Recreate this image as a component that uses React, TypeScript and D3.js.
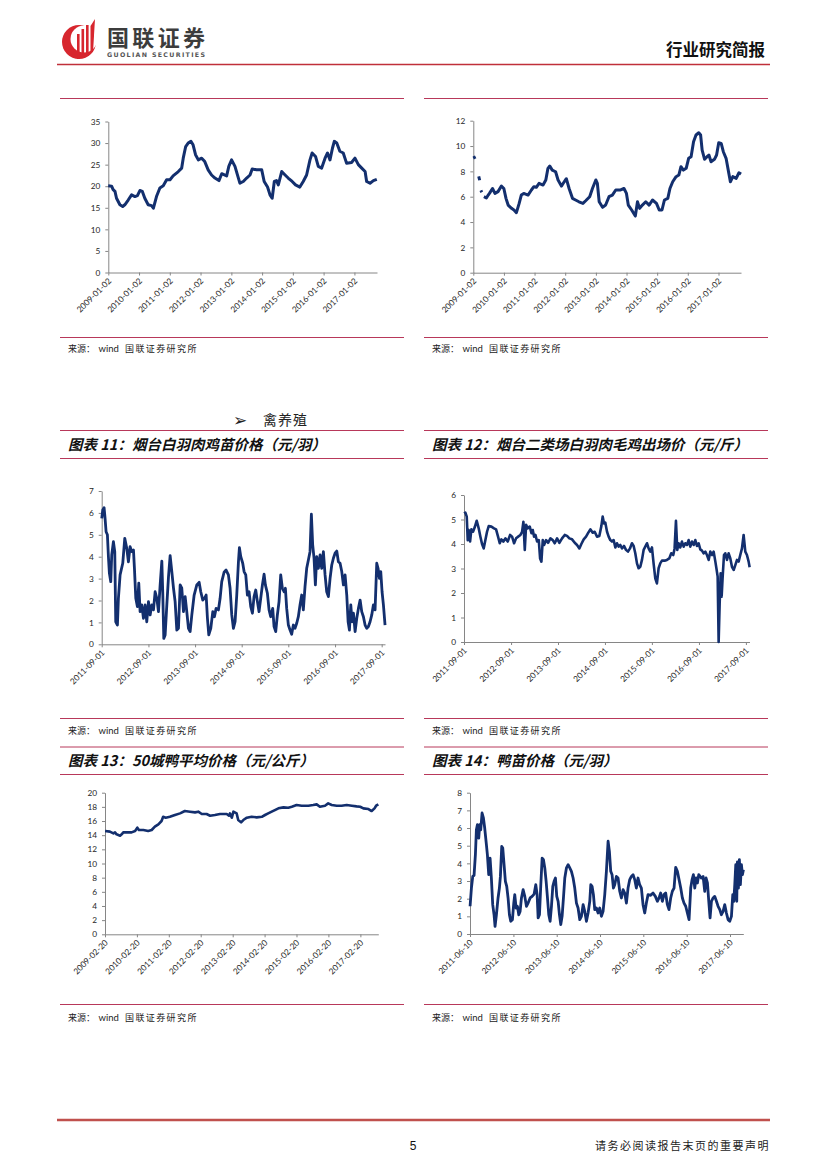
import { useRef, useEffect } from 'react'
import * as d3 from 'd3'

// [decimal year, value]; null marks a gap in the series
type Pt = [number, number | null]

const ticksJan02 = ['2009-01-02', '2010-01-02', '2011-01-02', '2012-01-02', '2013-01-02', '2014-01-02', '2015-01-02', '2016-01-02', '2017-01-02']
const ticksSep01 = ['2011-09-01', '2012-09-01', '2013-09-01', '2014-09-01', '2015-09-01', '2016-09-01', '2017-09-01']
const ticksFeb20 = ['2009-02-20', '2010-02-20', '2011-02-20', '2012-02-20', '2013-02-20', '2014-02-20', '2015-02-20', '2016-02-20', '2017-02-20']
const ticksJun10 = ['2011-06-10', '2012-06-10', '2013-06-10', '2014-06-10', '2015-06-10', '2016-06-10', '2017-06-10']

const topLeftSeries: Pt[] = [
  [2009.0, 20.1], [2009.11, 20.0], [2009.16, 19.2], [2009.22, 18.8], [2009.27, 17.2], [2009.38, 15.7], [2009.47, 15.3],
  [2009.54, 15.7], [2009.65, 16.8], [2009.76, 18.0], [2009.87, 17.6], [2009.95, 17.8], [2010.03, 19.0], [2010.11, 18.8],
  [2010.19, 17.2], [2010.3, 15.7], [2010.41, 15.5], [2010.47, 14.9], [2010.57, 17.6], [2010.68, 19.6], [2010.79, 20.1],
  [2010.9, 21.5], [2011.01, 21.5], [2011.11, 22.4], [2011.28, 23.4], [2011.39, 24.2], [2011.44, 26.5], [2011.52, 29.2],
  [2011.6, 30.0], [2011.69, 30.4], [2011.76, 29.6], [2011.84, 27.3], [2011.93, 26.1], [2012.04, 26.5], [2012.14, 25.7],
  [2012.25, 23.8], [2012.36, 22.6], [2012.47, 21.9], [2012.6, 21.3], [2012.69, 22.9], [2012.85, 22.4], [2012.92, 24.6],
  [2013.01, 26.1], [2013.12, 24.6], [2013.21, 22.4], [2013.28, 20.7], [2013.39, 21.1], [2013.5, 21.9], [2013.61, 22.6],
  [2013.68, 24.0], [2013.82, 23.8], [2013.99, 23.8], [2014.07, 21.1], [2014.18, 19.8], [2014.26, 18.0], [2014.33, 17.2],
  [2014.4, 21.1], [2014.47, 21.3], [2014.53, 20.3], [2014.64, 23.4], [2014.75, 22.6], [2014.85, 21.9], [2014.98, 21.1],
  [2015.09, 20.3], [2015.23, 19.8], [2015.34, 21.1], [2015.45, 22.6], [2015.56, 26.1], [2015.63, 27.7], [2015.74, 26.9],
  [2015.83, 24.6], [2015.94, 24.2], [2016.05, 26.5], [2016.13, 27.7], [2016.21, 26.1], [2016.29, 28.8], [2016.35, 30.4],
  [2016.43, 30.0], [2016.53, 28.1], [2016.64, 27.7], [2016.75, 25.3], [2016.91, 25.5], [2017.02, 26.5], [2017.13, 25.0],
  [2017.24, 24.2], [2017.35, 23.4], [2017.4, 21.1], [2017.51, 20.7], [2017.62, 21.3], [2017.73, 21.6],
]

const topRightSeries: Pt[] = [
  [2009.0, 9.05], [2009.04, 9.1], [2009.08, 9.15], [2009.12, null],
  [2009.18, 7.6], [2009.21, 7.3], [2009.23, null],
  [2009.25, 6.5], [2009.28, 6.35], [2009.31, null],
  [2009.35, 6.0], [2009.43, 5.9], [2009.49, 6.13], [2009.54, 6.3], [2009.63, 6.65], [2009.71, 6.26], [2009.81, 6.4],
  [2009.92, 6.84], [2010.0, 6.65], [2010.07, 5.87], [2010.14, 5.34], [2010.25, 5.08], [2010.33, 4.95], [2010.41, 4.74],
  [2010.5, 5.47], [2010.57, 6.13], [2010.65, 6.26], [2010.79, 6.13], [2010.9, 6.53], [2010.98, 6.79], [2011.06, 6.74],
  [2011.15, 7.05], [2011.28, 6.92], [2011.37, 7.32], [2011.44, 8.24], [2011.5, 8.42], [2011.58, 8.1], [2011.69, 7.97],
  [2011.77, 7.32], [2011.88, 6.84], [2011.95, 7.1], [2012.04, 7.42], [2012.13, 6.65], [2012.24, 5.87], [2012.34, 5.74],
  [2012.45, 5.6], [2012.58, 5.47], [2012.67, 5.68], [2012.8, 6.0], [2012.89, 6.65], [2013.0, 7.32], [2013.05, 7.05],
  [2013.11, 5.6], [2013.22, 5.16], [2013.32, 5.34], [2013.43, 6.0], [2013.54, 6.13], [2013.65, 6.53], [2013.81, 6.53],
  [2013.92, 6.65], [2014.0, 6.26], [2014.06, 5.34], [2014.17, 4.95], [2014.29, 4.47], [2014.36, 5.6], [2014.43, 5.08],
  [2014.52, 5.34], [2014.63, 5.6], [2014.74, 5.34], [2014.85, 5.74], [2014.98, 5.47], [2015.07, 4.95], [2015.16, 4.95],
  [2015.24, 5.74], [2015.35, 5.87], [2015.42, 6.65], [2015.51, 7.18], [2015.62, 7.58], [2015.71, 7.71], [2015.78, 8.37],
  [2015.86, 8.1], [2015.95, 8.24], [2016.03, 9.03], [2016.11, 9.16], [2016.19, 10.34], [2016.27, 10.87], [2016.36, 11.05],
  [2016.42, 10.87], [2016.47, 9.68], [2016.55, 8.95], [2016.63, 9.16], [2016.69, 9.29], [2016.76, 8.76], [2016.87, 8.95],
  [2016.94, 9.29], [2017.01, 10.26], [2017.09, 10.21], [2017.16, 9.55], [2017.25, 9.03], [2017.34, 7.84], [2017.39, 7.18],
  [2017.47, 7.58], [2017.58, 7.45], [2017.67, 7.89], [2017.74, 7.79],
]

// 烟台白羽肉鸡苗价格（元/羽）
const chickSeedlingPrice: Pt[] = [
  [2011.667, 5.75], [2011.688, 6.13], [2011.717, 6.24], [2011.738, 5.75], [2011.76, 5.14], [2011.788, 5.0], [2011.81, 4.0],
  [2011.831, 3.24], [2011.86, 2.86], [2011.881, 4.08], [2011.917, 4.69], [2011.946, 4.23], [2011.967, 1.03], [2012.003, 0.88],
  [2012.024, 2.1], [2012.06, 3.17], [2012.117, 3.7], [2012.16, 4.84], [2012.203, 4.38], [2012.238, 3.77], [2012.274, 4.46],
  [2012.31, 4.23], [2012.346, 4.31], [2012.367, 3.47], [2012.396, 2.1], [2012.431, 1.72], [2012.46, 2.79], [2012.488, 1.49],
  [2012.524, 1.8], [2012.56, 1.19], [2012.596, 1.8], [2012.631, 1.03], [2012.667, 1.95], [2012.703, 1.34], [2012.738, 1.8],
  [2012.774, 1.57], [2012.81, 2.4], [2012.846, 2.1], [2012.881, 1.49], [2012.917, 2.71], [2012.953, 3.8], [2012.974, 2.25],
  [2012.995, 0.27], [2013.024, 0.43], [2013.06, 1.8], [2013.096, 3.09], [2013.131, 4.05], [2013.167, 3.32], [2013.203, 2.56],
  [2013.238, 1.95], [2013.274, 0.65], [2013.31, 0.73], [2013.346, 2.71], [2013.381, 2.56], [2013.417, 1.49], [2013.453, 2.18],
  [2013.488, 1.49], [2013.524, 0.73], [2013.56, 0.58], [2013.596, 1.34], [2013.646, 2.25], [2013.703, 2.71], [2013.753, 2.83],
  [2013.788, 2.4], [2013.831, 2.02], [2013.867, 2.1], [2013.903, 2.25], [2013.931, 1.19], [2013.96, 0.43], [2014.003, 0.73],
  [2014.046, 1.49], [2014.081, 1.26], [2014.117, 1.64], [2014.167, 1.57], [2014.203, 2.1], [2014.238, 2.86], [2014.288, 3.29],
  [2014.331, 3.39], [2014.381, 3.17], [2014.417, 2.56], [2014.453, 1.34], [2014.488, 0.73], [2014.524, 1.03], [2014.56, 2.25],
  [2014.596, 3.77], [2014.617, 4.41], [2014.646, 4.0], [2014.688, 3.7], [2014.717, 3.32], [2014.753, 3.17], [2014.788, 2.25],
  [2014.824, 2.4], [2014.86, 1.72], [2014.896, 1.42], [2014.931, 2.18], [2014.967, 2.48], [2015.003, 1.95], [2015.038, 1.49],
  [2015.074, 2.1], [2015.11, 2.71], [2015.146, 3.2], [2015.174, 2.71], [2015.217, 2.33], [2015.253, 1.57], [2015.288, 1.26],
  [2015.331, 1.64], [2015.36, 0.81], [2015.396, 0.58], [2015.431, 1.34], [2015.467, 1.95], [2015.503, 3.17], [2015.538, 2.56],
  [2015.574, 2.4], [2015.603, 2.56], [2015.631, 1.64], [2015.667, 0.88], [2015.703, 0.65], [2015.738, 0.46], [2015.774, 0.88],
  [2015.81, 0.73], [2015.846, 0.96], [2015.881, 1.26], [2015.917, 1.8], [2015.953, 2.25], [2015.988, 1.57], [2016.024, 2.63],
  [2016.06, 3.47], [2016.096, 3.85], [2016.131, 4.23], [2016.16, 5.94], [2016.188, 4.54], [2016.217, 3.93], [2016.246, 2.71],
  [2016.274, 4.0], [2016.31, 3.47], [2016.346, 4.08], [2016.381, 3.47], [2016.417, 4.23], [2016.453, 3.17], [2016.488, 2.4],
  [2016.524, 2.18], [2016.56, 3.01], [2016.596, 3.62], [2016.631, 3.93], [2016.667, 4.16], [2016.703, 4.26], [2016.738, 3.77],
  [2016.774, 3.7], [2016.81, 3.32], [2016.846, 2.71], [2016.881, 3.17], [2016.917, 2.25], [2016.946, 1.03], [2016.974, 0.65],
  [2017.003, 1.8], [2017.031, 1.03], [2017.06, 1.42], [2017.096, 0.58], [2017.131, 1.19], [2017.167, 1.64], [2017.203, 2.02],
  [2017.238, 1.49], [2017.274, 1.26], [2017.31, 0.88], [2017.346, 0.73], [2017.381, 0.81], [2017.417, 1.03], [2017.453, 1.34],
  [2017.488, 1.8], [2017.524, 1.57], [2017.56, 3.7], [2017.588, 3.47], [2017.617, 3.01], [2017.646, 3.32], [2017.674, 2.4],
  [2017.703, 1.8], [2017.738, 0.88],
]

// 烟台二类场白羽肉毛鸡出场价（元/斤）
const broilerFarmPrice: Pt[] = [
  [2011.667, 5.25], [2011.695, 5.28], [2011.724, 5.12], [2011.745, 4.16], [2011.766, 4.57], [2011.795, 4.1], [2011.823, 4.6],
  [2011.858, 4.5], [2011.894, 4.68], [2011.937, 4.95], [2011.979, 4.64], [2012.015, 4.3], [2012.05, 4.0], [2012.085, 3.82],
  [2012.121, 4.16], [2012.156, 4.5], [2012.192, 4.73], [2012.249, 4.71], [2012.305, 4.64], [2012.348, 4.6], [2012.39, 4.3],
  [2012.426, 4.03], [2012.461, 4.19], [2012.504, 4.1], [2012.546, 4.23], [2012.596, 4.1], [2012.646, 4.37], [2012.688, 4.3],
  [2012.731, 4.03], [2012.773, 4.23], [2012.816, 4.3], [2012.866, 4.37], [2012.901, 4.5], [2012.929, 4.91], [2012.958, 3.76],
  [2012.986, 4.78], [2013.022, 4.64], [2013.064, 4.71], [2013.1, 4.44], [2013.128, 4.57], [2013.156, 4.3], [2013.185, 4.37],
  [2013.22, 4.1], [2013.256, 4.16], [2013.284, 3.41], [2013.312, 3.28], [2013.341, 4.16], [2013.369, 3.96], [2013.412, 4.16],
  [2013.454, 4.05], [2013.504, 4.23], [2013.554, 4.16], [2013.596, 4.03], [2013.646, 4.23], [2013.695, 4.05], [2013.752, 4.23],
  [2013.809, 4.37], [2013.858, 4.33], [2013.908, 4.23], [2013.965, 4.19], [2014.022, 4.05], [2014.071, 3.96], [2014.121, 3.82],
  [2014.163, 4.0], [2014.213, 4.19], [2014.263, 4.3], [2014.305, 4.44], [2014.355, 4.6], [2014.405, 4.46], [2014.447, 4.5],
  [2014.497, 4.3], [2014.546, 4.33], [2014.589, 4.73], [2014.617, 5.12], [2014.646, 4.84], [2014.674, 4.87], [2014.71, 4.5],
  [2014.745, 4.3], [2014.78, 4.16], [2014.816, 4.1], [2014.851, 4.16], [2014.887, 3.86], [2014.922, 4.03], [2014.958, 3.89],
  [2014.993, 3.96], [2015.029, 3.82], [2015.071, 3.92], [2015.114, 3.76], [2015.156, 3.69], [2015.199, 3.82], [2015.241, 4.03],
  [2015.277, 3.92], [2015.312, 3.62], [2015.348, 3.21], [2015.383, 3.01], [2015.419, 3.07], [2015.454, 3.35], [2015.49, 3.76],
  [2015.525, 3.89], [2015.561, 4.03], [2015.596, 3.82], [2015.632, 3.69], [2015.667, 3.86], [2015.702, 3.21], [2015.738, 2.6],
  [2015.773, 2.39], [2015.809, 3.01], [2015.844, 3.21], [2015.88, 3.32], [2015.937, 3.32], [2015.986, 3.35], [2016.036, 3.41],
  [2016.078, 3.62], [2016.121, 3.55], [2016.149, 3.82], [2016.178, 4.95], [2016.206, 3.76], [2016.234, 4.03], [2016.27, 3.86],
  [2016.305, 4.1], [2016.341, 3.89], [2016.376, 4.03], [2016.412, 3.96], [2016.447, 4.16], [2016.483, 3.89], [2016.518, 4.1],
  [2016.554, 3.96], [2016.589, 4.16], [2016.624, 3.92], [2016.66, 4.03], [2016.695, 3.78], [2016.731, 3.73], [2016.766, 3.62],
  [2016.802, 3.69], [2016.837, 3.55], [2016.873, 3.35], [2016.908, 3.69], [2016.944, 3.55], [2016.979, 3.69], [2017.015, 3.28],
  [2017.043, 2.94], [2017.064, 2.67], [2017.085, 0.0], [2017.107, 1.58], [2017.128, 2.8], [2017.149, 1.85], [2017.171, 2.67],
  [2017.199, 3.55], [2017.227, 3.62], [2017.263, 3.35], [2017.298, 3.62], [2017.334, 3.41], [2017.369, 3.07], [2017.405, 2.94],
  [2017.44, 3.14], [2017.476, 3.35], [2017.511, 3.28], [2017.546, 3.55], [2017.582, 3.82], [2017.617, 4.37], [2017.653, 3.69],
  [2017.688, 3.55], [2017.724, 3.28], [2017.745, 3.05],
]

// 50城鸭平均价格（元/公斤）
const duckAvgPrice: Pt[] = [
  [2009.14, 14.59], [2009.29, 14.5], [2009.4, 14.26], [2009.45, 14.4], [2009.5, 14.12], [2009.61, 13.93], [2009.66, 14.12],
  [2009.71, 14.4], [2009.82, 14.4], [2009.97, 14.4], [2010.08, 14.59], [2010.15, 15.06], [2010.2, 14.73], [2010.34, 14.73],
  [2010.49, 14.59], [2010.6, 14.73], [2010.7, 15.2], [2010.81, 15.53], [2010.91, 16.0], [2010.96, 16.6], [2011.04, 16.47],
  [2011.17, 16.6], [2011.33, 16.85], [2011.49, 17.08], [2011.64, 17.41], [2011.8, 17.32], [2011.96, 17.22], [2012.06, 17.32],
  [2012.17, 16.99], [2012.32, 16.99], [2012.43, 16.75], [2012.58, 16.85], [2012.74, 16.99], [2012.95, 16.99], [2013.02, 16.75],
  [2013.05, 17.08], [2013.11, 16.47], [2013.16, 17.32], [2013.26, 17.08], [2013.31, 16.14], [2013.4, 15.81], [2013.47, 16.14],
  [2013.58, 16.47], [2013.73, 16.6], [2013.89, 16.52], [2014.05, 16.6], [2014.15, 16.85], [2014.25, 17.08], [2014.36, 17.32],
  [2014.46, 17.55], [2014.57, 17.79], [2014.73, 17.93], [2014.88, 17.88], [2014.99, 18.02], [2015.14, 18.26], [2015.3, 18.16],
  [2015.51, 18.16], [2015.66, 18.26], [2015.77, 18.35], [2015.87, 18.02], [2016.03, 18.16], [2016.13, 18.49], [2016.24, 18.26],
  [2016.4, 18.16], [2016.55, 18.16], [2016.71, 18.26], [2016.87, 18.16], [2017.02, 18.07], [2017.13, 18.02], [2017.23, 17.79],
  [2017.39, 17.69], [2017.49, 17.41], [2017.58, 17.79], [2017.63, 18.16], [2017.7, 18.35],
]

// 鸭苗价格（元/羽）
const duckSeedlingPrice: Pt[] = [
  [2011.44, 1.57], [2011.471, 2.6], [2011.502, 3.26], [2011.532, 3.32], [2011.563, 4.49], [2011.586, 5.9], [2011.609, 6.19],
  [2011.64, 5.43], [2011.663, 6.19], [2011.686, 5.9], [2011.717, 6.85], [2011.748, 6.57], [2011.778, 6.0], [2011.817, 5.06],
  [2011.84, 4.49], [2011.871, 3.36], [2011.902, 4.3], [2011.932, 3.17], [2011.963, 1.66], [2011.994, 1.09], [2012.017, 0.43],
  [2012.048, 1.09], [2012.086, 2.04], [2012.117, 2.6], [2012.14, 3.26], [2012.171, 4.96], [2012.194, 4.87], [2012.225, 3.92],
  [2012.255, 2.98], [2012.286, 2.7], [2012.317, 2.04], [2012.348, 1.09], [2012.378, 0.72], [2012.417, 0.81], [2012.448, 1.75],
  [2012.471, 2.23], [2012.502, 1.47], [2012.532, 1.57], [2012.563, 1.09], [2012.594, 1.28], [2012.625, 2.04], [2012.663, 2.51],
  [2012.702, 2.13], [2012.74, 1.57], [2012.778, 1.75], [2012.825, 2.04], [2012.871, 2.13], [2012.917, 2.26], [2012.955, 2.79],
  [2012.986, 2.23], [2013.009, 0.91], [2013.04, 1.09], [2013.071, 2.79], [2013.102, 4.3], [2013.132, 4.21], [2013.163, 3.74],
  [2013.194, 2.98], [2013.225, 2.04], [2013.255, 1.09], [2013.286, 0.72], [2013.317, 1.57], [2013.348, 2.7], [2013.378, 2.98],
  [2013.409, 3.17], [2013.44, 2.13], [2013.471, 1.85], [2013.502, 1.09], [2013.532, 0.53], [2013.563, 1.0], [2013.594, 2.04],
  [2013.625, 3.17], [2013.663, 3.74], [2013.702, 3.92], [2013.74, 3.74], [2013.778, 3.55], [2013.817, 3.17], [2013.855, 2.6],
  [2013.894, 1.75], [2013.932, 1.47], [2013.971, 0.81], [2014.009, 1.0], [2014.048, 1.66], [2014.086, 1.28], [2014.125, 0.72],
  [2014.163, 1.19], [2014.202, 1.85], [2014.225, 2.79], [2014.255, 2.7], [2014.286, 2.23], [2014.317, 1.38], [2014.355, 1.47],
  [2014.394, 1.19], [2014.432, 1.47], [2014.471, 1.0], [2014.509, 1.28], [2014.548, 2.23], [2014.586, 3.55], [2014.625, 5.25],
  [2014.655, 4.68], [2014.686, 3.55], [2014.717, 3.36], [2014.748, 2.6], [2014.778, 2.79], [2014.817, 3.26], [2014.855, 3.17],
  [2014.894, 2.42], [2014.932, 2.04], [2014.971, 2.51], [2015.009, 2.32], [2015.048, 1.75], [2015.086, 2.6], [2015.125, 3.08],
  [2015.163, 3.26], [2015.202, 3.36], [2015.24, 3.08], [2015.278, 2.6], [2015.317, 3.17], [2015.355, 2.79], [2015.394, 2.6],
  [2015.432, 1.66], [2015.471, 1.19], [2015.509, 1.75], [2015.548, 2.23], [2015.609, 2.19], [2015.663, 2.32], [2015.717, 2.13],
  [2015.763, 1.85], [2015.802, 2.04], [2015.84, 2.32], [2015.878, 1.85], [2015.917, 2.23], [2015.955, 2.32], [2015.994, 1.66],
  [2016.032, 1.38], [2016.071, 2.04], [2016.109, 2.42], [2016.148, 2.6], [2016.186, 3.77], [2016.225, 3.55], [2016.263, 3.08],
  [2016.302, 2.6], [2016.34, 2.04], [2016.378, 1.75], [2016.417, 1.57], [2016.455, 1.19], [2016.494, 0.81], [2016.532, 2.6],
  [2016.563, 3.08], [2016.594, 3.36], [2016.625, 2.6], [2016.655, 3.17], [2016.686, 2.89], [2016.717, 3.36], [2016.748, 3.26],
  [2016.778, 3.17], [2016.817, 3.26], [2016.855, 2.42], [2016.886, 3.17], [2016.917, 2.89], [2016.948, 1.85], [2016.978, 0.91],
  [2017.009, 1.85], [2017.048, 2.04], [2017.086, 2.13], [2017.125, 1.85], [2017.163, 1.57], [2017.202, 1.38], [2017.24, 1.09],
  [2017.278, 1.28], [2017.317, 1.66], [2017.355, 1.19], [2017.394, 0.81], [2017.432, 0.72], [2017.471, 1.0], [2017.502, 2.23],
  [2017.525, 1.85], [2017.548, 2.79], [2017.571, 3.92], [2017.594, 1.85], [2017.609, 4.08], [2017.632, 2.6], [2017.655, 4.21],
  [2017.678, 2.79], [2017.702, 3.92], [2017.725, 3.36], [2017.748, 3.64],
]

const LINE_COLOR = '#132f6e'
const AXIS_COLOR = '#868686'
const RULE_COLOR = '#b8385a'
const AXIS_FONT = "Lato, 'Open Sans', sans-serif"
const CJK_FONT = "'Noto Sans CJK SC', sans-serif"

const parseDay = d3.timeParse('%Y-%m-%d')

// decimal year -> Date
const yearToDate = (t: number) => {
  const yr = Math.floor(t)
  const a = new Date(yr, 0, 1).getTime()
  const b = new Date(yr + 1, 0, 1).getTime()
  return new Date(a + (t - yr) * (b - a))
}

interface LineChartProps {
  data: Pt[]
  xTicks: string[]
  xEnd: string
  yMax: number
  yStep: number
  left: number
  right: number
  top: number
  bottom: number
  strokeWidth?: number
}

const LineChart = ({ data, xTicks, xEnd, yMax, yStep, left, right, top, bottom, strokeWidth = 2.6 }: LineChartProps) => {
  const gRef = useRef<SVGGElement>(null)

  useEffect(() => {
    if (!gRef.current) return
    const g = d3.select(gRef.current)
    g.selectAll('*').remove()

    const tickDates = xTicks.map(s => parseDay(s) as Date)
    const x = d3.scaleTime().domain([tickDates[0], parseDay(xEnd) as Date]).range([left, right])
    const y = d3.scaleLinear().domain([0, yMax]).range([bottom, top])

    const yAxis = d3.axisLeft(y)
      .tickValues(d3.range(0, yMax + yStep / 2, yStep))
      .tickFormat(d3.format('d'))
      .tickSize(3)
      .tickSizeOuter(0)
      .tickPadding(5)
    const yg = g.append('g').attr('transform', `translate(${left},0)`).call(yAxis)

    const xAxis = d3.axisBottom(x)
      .tickValues(tickDates)
      .tickFormat((_, i) => xTicks[i])
      .tickSize(3)
      .tickSizeOuter(0)
    const xg = g.append('g').attr('transform', `translate(0,${bottom})`).call(xAxis)
    xg.selectAll('text')
      .attr('text-anchor', 'end')
      .attr('x', 0)
      .attr('y', 0)
      .attr('dy', 0)
      .attr('transform', 'translate(3,9) rotate(-45)')

    for (const a of [yg, xg]) {
      a.attr('font-family', AXIS_FONT).attr('font-size', 8.3)
      a.select('.domain').attr('stroke', AXIS_COLOR)
      a.selectAll('.tick line').attr('stroke', AXIS_COLOR)
      a.selectAll('text').attr('fill', '#262626')
    }

    const line = d3.line<Pt>()
      .defined(d => d[1] !== null)
      .x(d => x(yearToDate(d[0])))
      .y(d => y(d[1] as number))

    g.append('path')
      .datum(data)
      .attr('fill', 'none')
      .attr('stroke', LINE_COLOR)
      .attr('stroke-width', strokeWidth)
      .attr('stroke-linejoin', 'round')
      .attr('d', line)
  }, [data, xTicks, xEnd, yMax, yStep, left, right, top, bottom, strokeWidth])

  return <g ref={gRef} />
}

const Rule = ({ x0, y }: { x0: number; y: number }) => (
  <line x1={x0} x2={x0 + 344} y1={y} y2={y} stroke={RULE_COLOR} strokeWidth={1} />
)

const Source = ({ x0, y }: { x0: number; y: number }) => (
  <text y={y} fontFamily={CJK_FONT} fontSize={9} fill="#222">
    <tspan x={x0 + 8}>来源：</tspan>
    <tspan x={x0 + 38.5} fontFamily={AXIS_FONT} fontSize={9.5}>wind</tspan>
    <tspan x={x0 + 65} letterSpacing={1.4}>国联证券研究所</tspan>
  </text>
)

const Title = ({ x0, y, text }: { x0: number; y: number; text: string }) => (
  <text x={x0 + 8} y={y} fontFamily={CJK_FONT} fontSize={14.5} fontWeight={700} fontStyle="italic" fill="#111">
    {text}
  </text>
)

const L = 60
const R = 424

const App = () => {
  return (
    <>
      <style>{'body{margin:0}'}</style>
      <svg width={827} height={1169} style={{ display: 'block', background: '#fff' }}>
        {/* header */}
        <g>
          <circle cx={79} cy={42} r={17} fill="#d7262e" />
          <circle cx={84} cy={39} r={13.5} fill="#fff" />
          <rect x={77} y={34} width={2.6} height={25} fill="#d7262e" />
          <rect x={81.5} y={29} width={2.6} height={29} fill="#d7262e" />
          <rect x={86} y={25} width={2.6} height={31} fill="#d7262e" />
          <path d="M90.5,53 L90.5,26 L95,19 L93,52 Z" fill="#d7262e" />
          <text x={107} y={46} fontFamily={CJK_FONT} fontSize={22} fontWeight={700} fill="#3c3c3c" textLength={98}>国联证券</text>
          <text x={107} y={56.5} fontFamily="'DejaVu Sans', sans-serif" fontSize={6.3} fontWeight={700} fill="#555" textLength={98}>GUOLIAN SECURITIES</text>
          <text x={765} y={56} textAnchor="end" fontFamily={CJK_FONT} fontSize={16.5} fontWeight={700} fill="#111">行业研究简报</text>
          <line x1={57} x2={770} y1={64.5} y2={64.5} stroke="#c0303a" strokeWidth={1.3} />
        </g>

        {/* row 1 */}
        <Rule x0={L} y={98.5} />
        <Rule x0={R} y={98.5} />
        <LineChart data={topLeftSeries} xTicks={ticksJan02} xEnd="2017-09-27" yMax={35} yStep={5}
          left={108.3} right={377} top={121.5} bottom={272.5} strokeWidth={3} />
        <LineChart data={topRightSeries} xTicks={ticksJan02} xEnd="2017-09-27" yMax={12} yStep={2}
          left={473.3} right={741} top={120.7} bottom={272.7} strokeWidth={3} />
        <Rule x0={L} y={337.5} />
        <Rule x0={R} y={337.5} />
        <Source x0={L} y={352} />
        <Source x0={R} y={352} />

        {/* section */}
        <text x={233} y={426} fontFamily="'DejaVu Sans', sans-serif" fontSize={17} fill="#222">➢</text>
        <text x={263} y={425} fontFamily={CJK_FONT} fontSize={14} letterSpacing={1} fill="#222">禽养殖</text>

        {/* row 2 */}
        <Rule x0={L} y={430.5} />
        <Rule x0={R} y={430.5} />
        <Title x0={L} y={450} text="图表 11：烟台白羽肉鸡苗价格（元/羽）" />
        <Title x0={R} y={450} text="图表 12：烟台二类场白羽肉毛鸡出场价（元/斤）" />
        <Rule x0={L} y={458.5} />
        <Rule x0={R} y={458.5} />
        <LineChart data={chickSeedlingPrice} xTicks={ticksSep01} xEnd="2017-09-27" yMax={7} yStep={1}
          left={101.7} right={385} top={491} bottom={644.3} strokeWidth={2.8} />
        <LineChart data={broilerFarmPrice} xTicks={ticksSep01} xEnd="2017-09-29" yMax={6} yStep={1}
          left={464} right={749.5} top={495} bottom={642} strokeWidth={2.6} />
        <Rule x0={L} y={718.5} />
        <Rule x0={R} y={718.5} />
        <Source x0={L} y={734} />
        <Source x0={R} y={734} />

        {/* row 3 */}
        <Rule x0={L} y={747} />
        <Rule x0={R} y={747} />
        <Title x0={L} y={766} text="图表 13：50城鸭平均价格（元/公斤）" />
        <Title x0={R} y={766} text="图表 14：鸭苗价格（元/羽）" />
        <Rule x0={L} y={774.5} />
        <Rule x0={R} y={774.5} />
        <LineChart data={duckAvgPrice} xTicks={ticksFeb20} xEnd="2017-09-13" yMax={20} yStep={2}
          left={105} right={378.3} top={792.7} bottom={934.3} strokeWidth={2.6} />
        <LineChart data={duckSeedlingPrice} xTicks={ticksJun10} xEnd="2017-09-30" yMax={8} yStep={1}
          left={470} right={743.3} top={792.7} bottom={934} strokeWidth={2.8} />
        <Rule x0={L} y={1004.5} />
        <Rule x0={R} y={1004.5} />
        <Source x0={L} y={1021} />
        <Source x0={R} y={1021} />

        {/* footer */}
        <line x1={57} x2={770} y1={1120} y2={1120} stroke="#c0504d" strokeWidth={2.5} />
        <text x={413} y={1150} textAnchor="middle" fontFamily="'Liberation Sans', sans-serif" fontSize={12} fill="#111">5</text>
        <text x={770} y={1150} textAnchor="end" fontFamily={CJK_FONT} fontSize={11} letterSpacing={1.5} fill="#222">请务必阅读报告末页的重要声明</text>
      </svg>
    </>
  )
}

export default App
